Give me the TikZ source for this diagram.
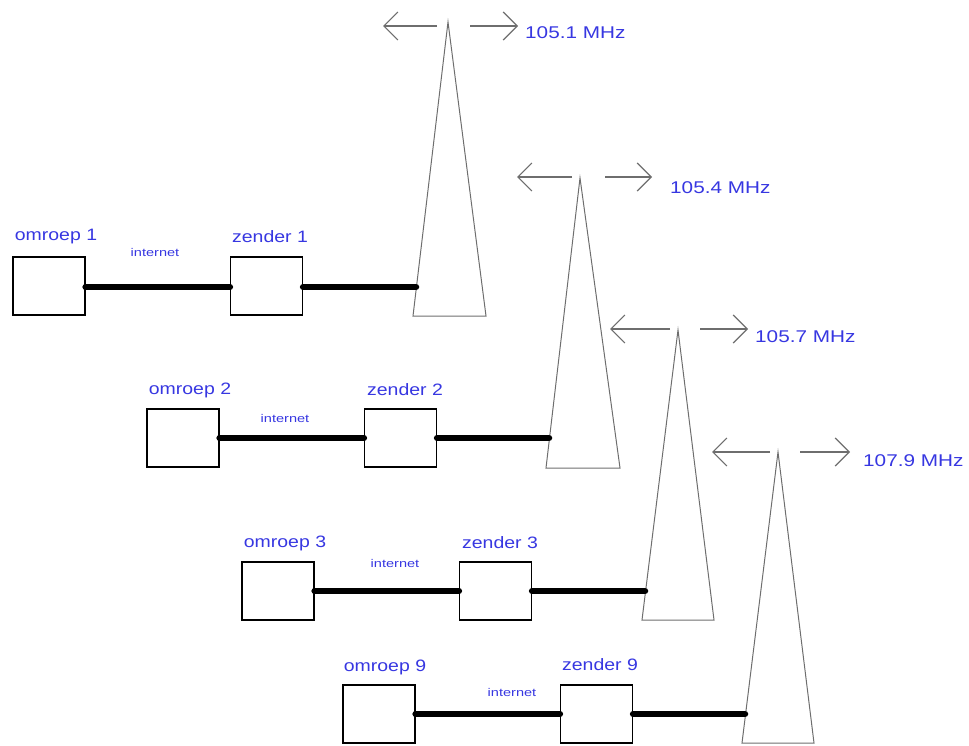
\documentclass[tikz,border=0pt]{standalone}
\usepackage{fontspec}
\setmainfont{Liberation Sans}
\usetikzlibrary{arrows.meta}
\definecolor{lbl}{RGB}{55,55,225}
\definecolor{tw}{RGB}{110,110,110}
\tikzset{
  box/.style={draw=black, line width=1.2pt, minimum width=72pt, minimum height=58pt, inner sep=0pt},
  boxlabel/.style={text=lbl, font=\fontsize{16.5}{16.5}\selectfont, inner sep=0pt},
  net/.style={text=lbl, font=\fontsize{11.2}{11.2}\selectfont, inner sep=0pt},
  freq/.style={text=lbl, font=\fontsize{17}{17}\selectfont, inner sep=0pt, anchor=west},
  cable/.style={line width=6.5pt, line cap=round},
  tower/.style={draw=tw, line width=1pt},
  wave/.style={draw=tw, line width=1.2pt, -{Straight Barb[length=14pt,width=28pt]}}
}
\begin{document}
\begin{tikzpicture}[x=1pt,y=-1pt]
\useasboundingbox (0,0) rectangle (969,746);
% ---------- row 1
\node[box] (o1) at (49,286) {};
\node[box] (z1) at (266.5,286) {};
\node[boxlabel] at (56,237) {\scalebox{1.18}[1]{omroep 1}};
\node[boxlabel] at (270,237) {\scalebox{1.18}[1]{zender 1}};
\node[net] at (155,252) {\scalebox{1.3}[1]{internet}};
\coordinate (a1) at (448,22);
\coordinate (bl1) at (413,316);
\coordinate (br1) at (486,316);
\coordinate (f1) at (416,287);
\draw[tower] (bl1) -- (a1) -- (br1) -- cycle;
\draw[cable] (o1.east |- 0,287) -- (z1.west |- 0,287);
\draw[cable] (z1.east |- 0,287) -- (f1);
\coordinate (w1l) at (437,26); \coordinate (w1le) at (383,26);
\coordinate (w1r) at (470,26); \coordinate (w1re) at (518,26);
\draw[wave] (w1l) -- (w1le);
\draw[wave] (w1r) -- (w1re);
\node[freq] at (525,33) {\scalebox{1.22}[1]{105.1 MHz}};
% ---------- row 2
\node[box] (o2) at (183,438) {};
\node[box] (z2) at (400.5,438) {};
\node[boxlabel] at (190,390) {\scalebox{1.18}[1]{omroep 2}};
\node[boxlabel] at (405,390) {\scalebox{1.18}[1]{zender 2}};
\node[net] at (285,418) {\scalebox{1.3}[1]{internet}};
\coordinate (a2) at (580,178);
\coordinate (bl2) at (546,468);
\coordinate (br2) at (620,468);
\coordinate (f2) at (549,438);
\draw[tower] (bl2) -- (a2) -- (br2) -- cycle;
\draw[cable] (z2.west |- 0,438) -- (o2.east |- 0,438);
\draw[cable] (f2) -- (z2.east |- 0,438);
\coordinate (w2l) at (572,177); \coordinate (w2le) at (517,177);
\coordinate (w2r) at (605,177); \coordinate (w2re) at (652,177);
\draw[wave] (w2l) -- (w2le);
\draw[wave] (w2r) -- (w2re);
\node[freq] at (670,188) {\scalebox{1.22}[1]{105.4 MHz}};
% ---------- row 3
\node[box] (o3) at (278,591) {};
\node[box] (z3) at (495.5,591) {};
\node[boxlabel] at (285,543) {\scalebox{1.18}[1]{omroep 3}};
\node[boxlabel] at (500,543) {\scalebox{1.18}[1]{zender 3}};
\node[net] at (395,563) {\scalebox{1.3}[1]{internet}};
\coordinate (a3) at (678,330);
\coordinate (bl3) at (642,620);
\coordinate (br3) at (714,620);
\coordinate (f3) at (645,591);
\draw[tower] (bl3) -- (a3) -- (br3) -- cycle;
\draw[cable] (o3.east |- 0,591) -- (z3.west |- 0,591);
\draw[cable] (z3.east |- 0,591) -- (f3);
\coordinate (w3l) at (670,329); \coordinate (w3le) at (610,329);
\coordinate (w3r) at (700,329); \coordinate (w3re) at (748,329);
\draw[wave] (w3l) -- (w3le);
\draw[wave] (w3r) -- (w3re);
\node[freq] at (755,337) {\scalebox{1.22}[1]{105.7 MHz}};
% ---------- row 9
\node[box] (o9) at (379,714) {};
\node[box] (z9) at (596.5,714) {};
\node[boxlabel] at (385,667) {\scalebox{1.18}[1]{omroep 9}};
\node[boxlabel] at (600,665) {\scalebox{1.18}[1]{zender 9}};
\node[net] at (512,692) {\scalebox{1.3}[1]{internet}};
\coordinate (a9) at (778,452);
\coordinate (bl9) at (742,743);
\coordinate (br9) at (814,743);
\coordinate (f9) at (745,714);
\draw[tower] (bl9) -- (a9) -- (br9) -- cycle;
\draw[cable] (o9.east |- 0,714) -- (z9.west |- 0,714);
\draw[cable] (z9.east |- 0,714) -- (f9);
\coordinate (w9l) at (770,452); \coordinate (w9le) at (712,452);
\coordinate (w9r) at (800,452); \coordinate (w9re) at (850,452);
\draw[wave] (w9l) -- (w9le);
\draw[wave] (w9r) -- (w9re);
\node[freq] at (863,461) {\scalebox{1.22}[1]{107.9 MHz}};
\end{tikzpicture}
\end{document}
